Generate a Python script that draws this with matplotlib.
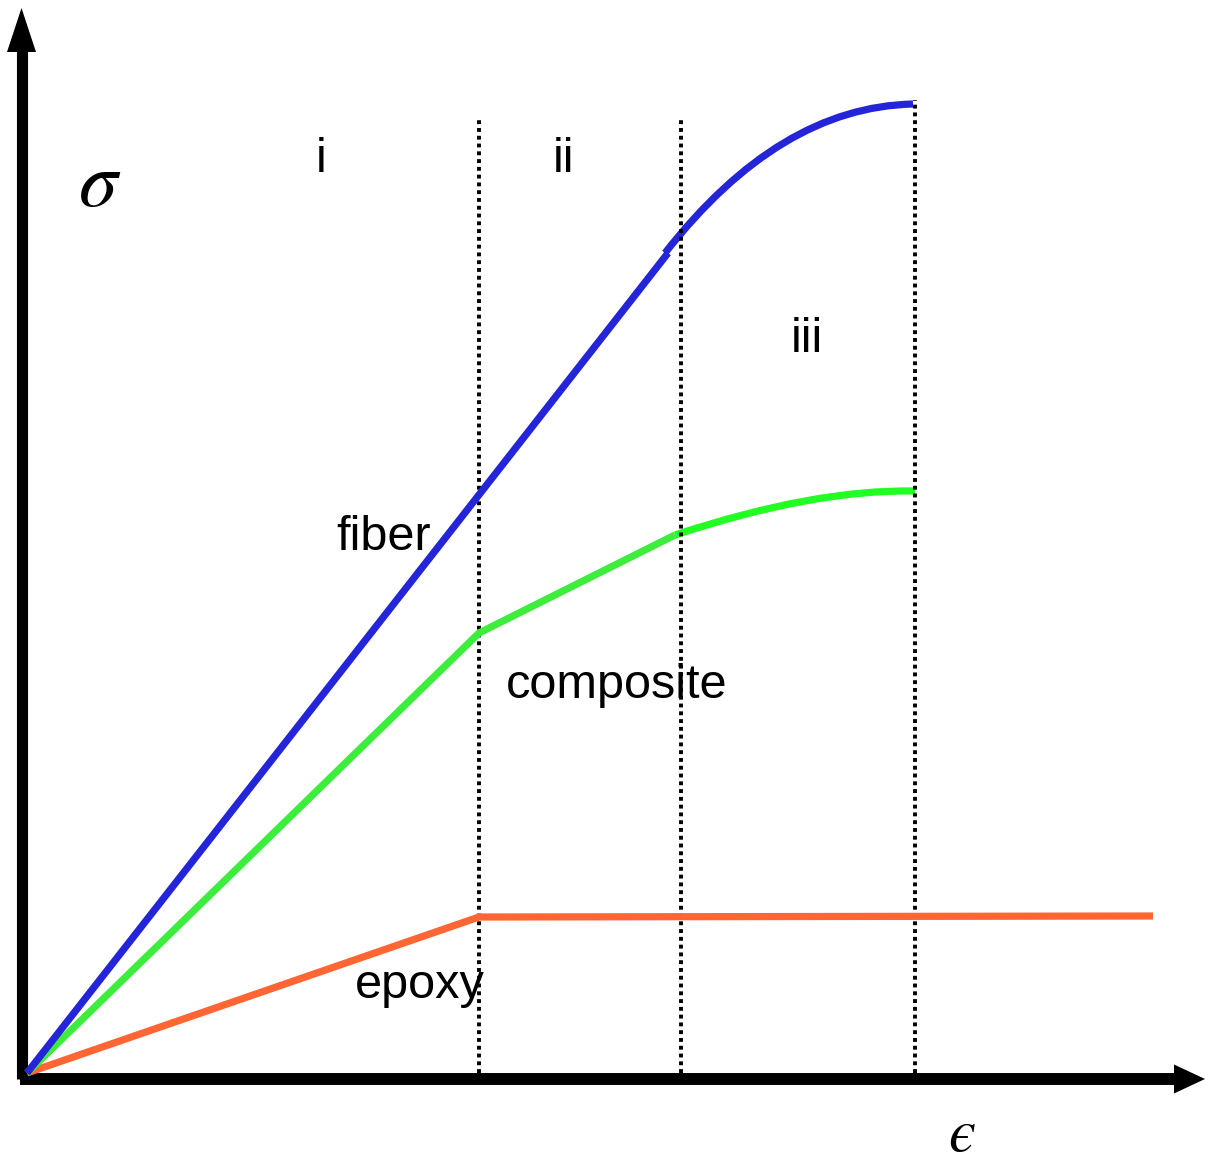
import matplotlib
matplotlib.use("Agg")
import matplotlib.pyplot as plt
from matplotlib.path import Path
from matplotlib.patches import PathPatch

plt.rcParams['mathtext.fontset'] = 'stix'

# fibre: linear part, then curved part (start, bend, end) after the matrix cracks
fiber_x = [0, 641]
fiber_y = [0, 820]
fiber_curve_x = [638, 752, 886]
fiber_curve_y = [820, 966, 969]

# composite
comp_x = [0, 452, 648]
comp_y = [0, 440, 538]
comp_curve_x = [648, 787, 888]
comp_curve_y = [538, 584, 582]

# epoxy
epoxy_x = [0, 452, 1126]
epoxy_y = [0, 156, 157]

# region boundaries (x, top)
bound_x = [452, 654, 888]
bound_top = [955, 955, 973]

regions = ['i', 'ii', 'iii']
region_pos = [(294, 913), (536, 913), (780, 733)]
labels = ['fiber', 'composite', 'epoxy']
label_pos = [(357, 536), (590, 387), (393, 88)]

fig = plt.figure(figsize=(12.05, 11.63), dpi=100)
ax = fig.add_axes([0, 0, 1, 1])
ax.set_xlim(-27, 1178)
ax.set_ylim(-90, 1073)
ax.axis('off')

# axes with arrow heads
ax.plot([-5.5, -5.5], [-6, 1023], color='black', lw=8, solid_capstyle='butt')
ax.fill([-20, 9, -5.5], [1021, 1021, 1065], color='black', lw=0)
ax.plot([-7, 1149], [-6, -6], color='black', lw=8.6, solid_capstyle='butt')
ax.fill([1147, 1147, 1178], [-20.5, 8.5, -6], color='black', lw=0)

for x, top in zip(bound_x, bound_top):
    ax.plot([x, x], [0, top], color='black', lw=2.8, linestyle=(0, (1, 1.0)))

lw = 5.2
ax.plot(epoxy_x, epoxy_y, color='#ff6633', lw=lw, solid_capstyle='butt')
ax.plot(comp_x, comp_y, color='#3ded3d', lw=lw, solid_capstyle='butt')
ax.add_patch(PathPatch(Path(list(zip(comp_curve_x, comp_curve_y)),
                            [Path.MOVETO, Path.CURVE3, Path.CURVE3]),
                       fill=False, edgecolor='#22ff22', lw=lw, capstyle='butt'))
ax.plot(fiber_x, fiber_y, color='#2424d8', lw=lw, solid_capstyle='butt')
ax.add_patch(PathPatch(Path(list(zip(fiber_curve_x, fiber_curve_y)),
                            [Path.MOVETO, Path.CURVE3, Path.CURVE3]),
                       fill=False, edgecolor='#2424d8', lw=lw, capstyle='butt'))

for t, (x, y) in zip(regions, region_pos):
    ax.text(x, y, t, fontsize=35, family='Liberation Sans', ha='center', va='center')
for t, (x, y) in zip(labels, label_pos):
    ax.text(x, y, t, fontsize=35, family='Liberation Sans', ha='center', va='center')

ax.text(73, 889, r'$\sigma$', fontsize=56, ha='center', va='center')
ax.text(935, -62, '$\u03f5$', fontsize=44, ha='center', va='center')

fig.savefig('out.png', dpi=100)
